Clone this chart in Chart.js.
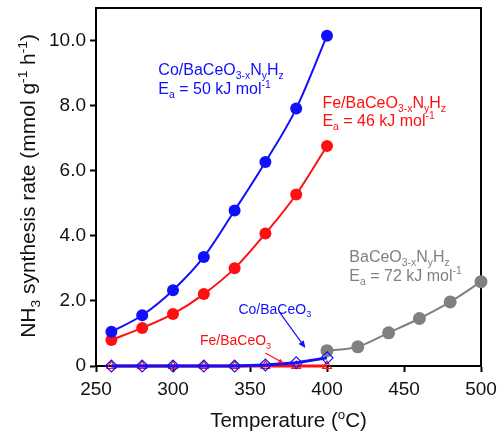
<!DOCTYPE html>
<html>
<head>
<meta charset="utf-8">
<script src="https://cdn.jsdelivr.net/npm/chart.js@4.4.0/dist/chart.umd.min.js"></script>
<style>
  html, body { margin: 0; padding: 0; background: #fff; }
  #wrap { width: 499px; height: 434px; }
</style>
</head>
<body>
<div id="wrap"><canvas id="nh3-chart" width="499" height="434"></canvas></div>
<script>
// temperatures (oC)
var tempsLow = [260, 280, 300, 320, 340, 360, 380, 400];
var tempsHigh = [400, 420, 440, 460, 480, 500];
// NH3 synthesis rate (mmol g-1 h-1)
var coNxHz = [1.05, 1.56, 2.33, 3.35, 4.78, 6.27, 7.91, 10.15];
var feNxHz = [0.80, 1.17, 1.60, 2.21, 3.00, 4.07, 5.27, 6.76];
var baNxHz = [0.47, 0.59, 1.02, 1.46, 1.97, 2.59];
var coBaCeO3 = [0, 0, 0, 0, 0, 0.03, 0.10, 0.25];
var feBaCeO3 = [0, 0, 0, 0, 0, 0, 0, 0];
var xTicks = [250, 300, 350, 400, 450, 500];
var yTicks = [0, 2, 4, 6, 8, 10];

var FONT = '"Liberation Sans", Arial, sans-serif';
var BLUE = '#1010ff', RED = '#ff1010', GRAY = '#808080';

function pts(xs, ys) { return xs.map((x, i) => ({ x: x, y: ys[i] })); }

// tiny rich text: _{sub} and ^{sup}
function parseRich(s) {
  var parts = [], re = /([_^])\{([^}]*)\}|([^_^]+)/g, m;
  while ((m = re.exec(s))) {
    if (m[3]) parts.push({ t: m[3], k: 0 });
    else parts.push({ t: m[2], k: m[1] === '_' ? 1 : -1 });
  }
  return parts;
}
function richWidth(ctx, parts, size) {
  var w = 0;
  parts.forEach(p => {
    ctx.font = (p.k ? size * 0.65 : size) + 'px ' + FONT;
    w += ctx.measureText(p.t).width;
  });
  return w;
}
function drawRich(ctx, s, x, y, size, color, align) {
  var parts = parseRich(s);
  if (align === 'center') x -= richWidth(ctx, parts, size) / 2;
  ctx.fillStyle = color;
  ctx.textAlign = 'left';
  ctx.textBaseline = 'alphabetic';
  parts.forEach(p => {
    var fs = p.k ? size * 0.65 : size;
    ctx.font = fs + 'px ' + FONT;
    var dy = p.k === 1 ? size * 0.25 : (p.k === -1 ? -size * 0.4 : 0);
    ctx.fillText(p.t, x, y + dy);
    x += ctx.measureText(p.t).width;
  });
}
function arrow(ctx, x1, y1, x2, y2, color, head) {
  ctx.save();
  ctx.strokeStyle = color; ctx.fillStyle = color; ctx.lineWidth = 1.2;
  var a = Math.atan2(y2 - y1, x2 - x1);
  ctx.beginPath(); ctx.moveTo(x1, y1);
  ctx.lineTo(x2 - Math.cos(a) * head * 0.8, y2 - Math.sin(a) * head * 0.8); ctx.stroke();
  ctx.beginPath(); ctx.moveTo(x2, y2);
  ctx.lineTo(x2 - head * Math.cos(a - 0.4), y2 - head * Math.sin(a - 0.4));
  ctx.lineTo(x2 - head * Math.cos(a + 0.4), y2 - head * Math.sin(a + 0.4));
  ctx.closePath(); ctx.fill();
  ctx.restore();
}

var labels = [
  { text: 'Co/BaCeO_{3-x}N_{y}H_{z}', x: 290.5, y: 8.93, color: BLUE, size: 16 },
  { text: 'E_{a} = 50 kJ mol^{-1}', x: 290.5, y: 8.36, color: BLUE, size: 16 },
  { text: 'Fe/BaCeO_{3-x}N_{y}H_{z}', x: 397, y: 7.94, color: RED, size: 16 },
  { text: 'E_{a} = 46 kJ mol^{-1}', x: 397, y: 7.38, color: RED, size: 16 },
  { text: 'BaCeO_{3-x}N_{y}H_{z}', x: 414.5, y: 3.2, color: GRAY, size: 16 },
  { text: 'E_{a} = 72 kJ mol^{-1}', x: 414.5, y: 2.62, color: GRAY, size: 16 },
  { text: 'Co/BaCeO_{3}', x: 342.5, y: 1.6, color: BLUE, size: 14 },
  { text: 'Fe/BaCeO_{3}', x: 317.5, y: 0.64, color: RED, size: 14 }
];

var decorations = {
  id: 'decorations',
  beforeDatasetsDraw(chart) {
    var ctx = chart.ctx, a = chart.chartArea;
    ctx.save();
    ctx.strokeStyle = '#000'; ctx.lineWidth = 2;
    ctx.strokeRect(a.left, a.top, a.right - a.left, a.bottom - a.top);
    ctx.restore();
  },
  afterDraw(chart) {
    var ctx = chart.ctx, a = chart.chartArea;
    var xs = chart.scales.x, ys = chart.scales.y;
    ctx.save();
    labels.forEach(l => drawRich(ctx, l.text, xs.getPixelForValue(l.x), ys.getPixelForValue(l.y), l.size, l.color));
    arrow(ctx, xs.getPixelForValue(369), ys.getPixelForValue(1.66), xs.getPixelForValue(386), ys.getPixelForValue(0.55), BLUE, 8);
    arrow(ctx, xs.getPixelForValue(360), ys.getPixelForValue(0.40), xs.getPixelForValue(372), ys.getPixelForValue(0.08), RED, 6);
    // axis titles
    drawRich(ctx, 'Temperature (^{o}C)', (a.left + a.right) / 2, 427, 20.5, '#111', 'center');
    ctx.translate(35, (a.top + a.bottom) / 2 - 1);
    ctx.rotate(-Math.PI / 2);
    drawRich(ctx, 'NH_{3} synthesis rate (mmol g^{-1} h^{-1})', 0, 0, 21, '#111', 'center');
    ctx.restore();
  }
};

var common = { showLine: true, fill: false, clip: false };

new Chart(document.getElementById('nh3-chart'), {
  type: 'scatter',
  data: {
    datasets: [
      Object.assign({ label: 'Co/BaCeO3', data: pts(tempsLow, coBaCeO3), borderColor: BLUE, borderWidth: 3,
        pointStyle: 'rectRot', pointRadius: 6, pointBorderWidth: 1.2, pointBorderColor: BLUE, pointBackgroundColor: 'rgba(0,0,0,0)' }, common),
      Object.assign({ label: 'Fe/BaCeO3', data: pts(tempsLow, feBaCeO3), borderColor: RED, borderWidth: 3,
        pointStyle: 'triangle', pointRadius: 5, pointBorderWidth: 1.2, pointBorderColor: RED, pointBackgroundColor: 'rgba(0,0,0,0)' }, common),
      Object.assign({ label: 'Co/BaCeO3-xNyHz', data: pts(tempsLow, coNxHz), borderColor: BLUE, backgroundColor: BLUE, borderWidth: 2,
        pointRadius: 6, pointBorderWidth: 0, cubicInterpolationMode: 'monotone' }, common),
      Object.assign({ label: 'Fe/BaCeO3-xNyHz', data: pts(tempsLow, feNxHz), borderColor: RED, backgroundColor: RED, borderWidth: 2,
        pointRadius: 6, pointBorderWidth: 0, cubicInterpolationMode: 'monotone' }, common),
      Object.assign({ label: 'BaCeO3-xNyHz', data: pts(tempsHigh, baNxHz), borderColor: GRAY, backgroundColor: GRAY, borderWidth: 2,
        pointRadius: 6.5, pointBorderWidth: 0, cubicInterpolationMode: 'monotone' }, common)
    ]
  },
  options: {
    responsive: false,
    animation: false,
    layout: { padding: { left: 0, right: 18, top: 8, bottom: 0 } },
    plugins: { legend: { display: false }, tooltip: { enabled: false } },
    scales: {
      x: {
        type: 'linear', min: 250, max: 500,
        afterFit(scale) { scale.height = 68; scale.paddingLeft = 0; scale.paddingRight = 0; },
        afterBuildTicks(scale) { scale.ticks = xTicks.map(v => ({ value: v })); },
        grid: { drawOnChartArea: false, tickLength: 6, tickColor: '#000', tickWidth: 2 },
        border: { color: '#000', width: 2 },
        ticks: { color: '#111', font: { family: FONT, size: 19 }, padding: 6, maxRotation: 0 }
      },
      y: {
        min: 0, max: 11,
        afterFit(scale) { scale.width = 96; scale.paddingTop = 0; scale.paddingBottom = 0; },
        afterBuildTicks(scale) { scale.ticks = yTicks.map(v => ({ value: v })); },
        grid: { drawOnChartArea: false, tickLength: 6, tickColor: '#000', tickWidth: 2 },
        border: { color: '#000', width: 2 },
        ticks: { color: '#111', font: { family: FONT, size: 19 }, padding: 4,
          callback: v => v === 0 ? '0' : v.toFixed(1) }
      }
    }
  },
  plugins: [decorations]
});
</script>
</body>
</html>
